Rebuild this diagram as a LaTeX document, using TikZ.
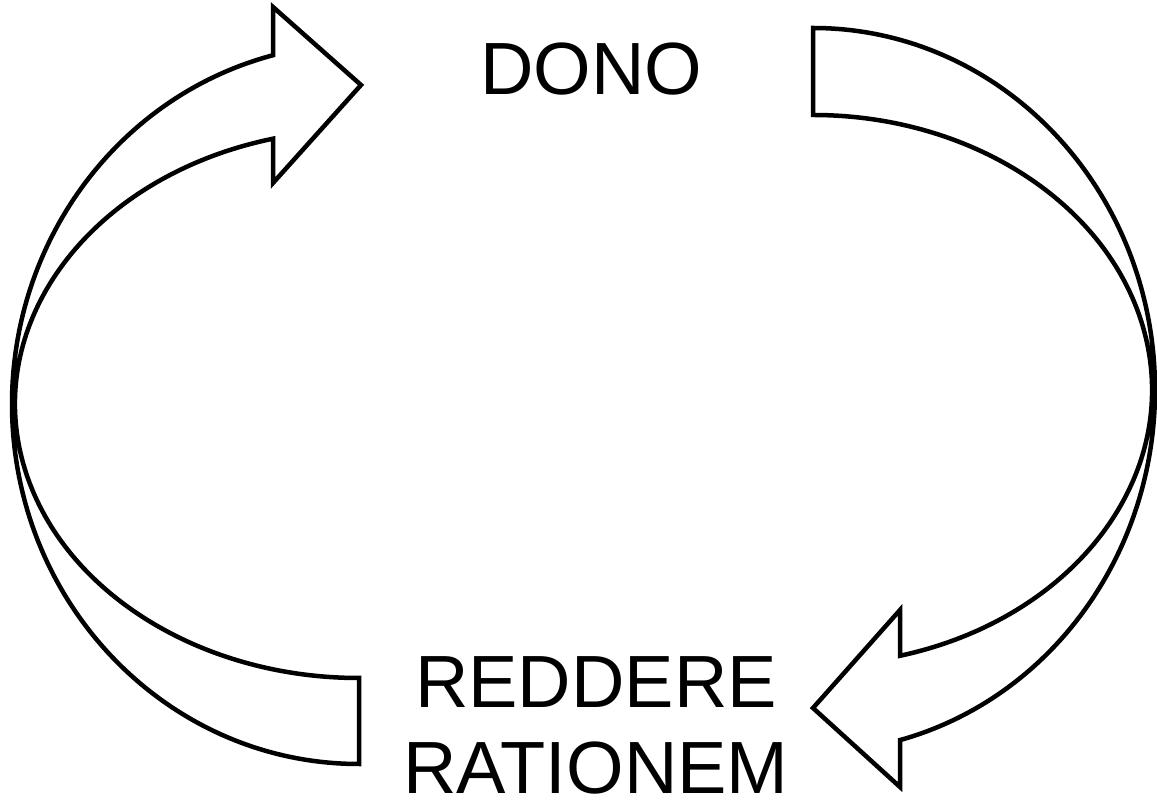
\documentclass[tikz,border=0pt]{standalone}
\usepackage{fontspec}
\setmainfont{Liberation Sans}
\usetikzlibrary{positioning}

\begin{document}
\begin{tikzpicture}[x=1pt, y=1pt,
		ArrowBand/.style={draw=black, line width=4.5pt, fill=white},
		CycleLabel/.style={inner sep=0pt, align=center, font=\fontsize{74}{86}\selectfont}]
			\useasboundingbox (0,0) rectangle (1157,806);
			% left arrow, going up to DONO
			\pgfmathsetmacro{\LeftCenterX}{359}
			\pgfmathsetmacro{\LeftCenterY}{402}
			\pgfmathsetmacro{\LeftOuterA}{347}
			\pgfmathsetmacro{\LeftOuterB}{360}
			\pgfmathsetmacro{\LeftInnerA}{344}
			\pgfmathsetmacro{\LeftInnerB}{274}
			\pgfmathsetmacro{\LeftHeadBackX}{273}
			\pgfmathsetmacro{\LeftOuterEnd}{180-acos((\LeftCenterX-\LeftHeadBackX)/\LeftOuterA)}
			\pgfmathsetmacro{\LeftInnerEnd}{180-acos((\LeftCenterX-\LeftHeadBackX)/\LeftInnerA)}
			\pgfmathsetmacro{\LeftInnerJoinY}{\LeftCenterY+\LeftInnerB*sin(\LeftInnerEnd)}
			\coordinate (LeftHeadTop) at (\LeftHeadBackX,799);
			\coordinate (LeftHeadTip) at (361,721);
			\coordinate (LeftHeadBottom) at (\LeftHeadBackX,623);
			% right arrow, going down to REDDERE RATIONEM
			\pgfmathsetmacro{\RightCenterX}{813}
			\pgfmathsetmacro{\RightCenterY}{416}
			\pgfmathsetmacro{\RightOuterA}{342}
			\pgfmathsetmacro{\RightOuterB}{362}
			\pgfmathsetmacro{\RightInnerA}{339}
			\pgfmathsetmacro{\RightInnerB}{275}
			\pgfmathsetmacro{\RightHeadBackX}{900}
			\pgfmathsetmacro{\RightOuterEnd}{-acos((\RightHeadBackX-\RightCenterX)/\RightOuterA)}
			\pgfmathsetmacro{\RightInnerEnd}{-acos((\RightHeadBackX-\RightCenterX)/\RightInnerA)}
			\pgfmathsetmacro{\RightInnerJoinY}{\RightCenterY+\RightInnerB*sin(\RightInnerEnd)}
			\coordinate (RightHeadBottom) at (\RightHeadBackX,19);
			\coordinate (RightHeadTip) at (813,98);
			\coordinate (RightHeadTop) at (\RightHeadBackX,196);
			\draw [ArrowBand] (\LeftCenterX,\LeftCenterY-\LeftInnerB) -- (\LeftCenterX,\LeftCenterY-\LeftOuterB)
				arc [start angle=270, end angle=\LeftOuterEnd, x radius=\LeftOuterA, y radius=\LeftOuterB]
				-- (LeftHeadTop) -- (LeftHeadTip) -- (LeftHeadBottom) -- (\LeftHeadBackX,\LeftInnerJoinY)
				arc [start angle=\LeftInnerEnd, end angle=270, x radius=\LeftInnerA, y radius=\LeftInnerB] -- cycle;
			\draw [ArrowBand] (\RightCenterX,\RightCenterY+\RightInnerB) -- (\RightCenterX,\RightCenterY+\RightOuterB)
				arc [start angle=90, end angle=\RightOuterEnd, x radius=\RightOuterA, y radius=\RightOuterB]
				-- (RightHeadBottom) -- (RightHeadTip) -- (RightHeadTop) -- (\RightHeadBackX,\RightInnerJoinY)
				arc [start angle=\RightInnerEnd, end angle=90, x radius=\RightInnerA, y radius=\RightInnerB] -- cycle;
			\node [CycleLabel, anchor=base] (DonoLabel) at (591,711) {DONO};
			\node [CycleLabel] (RationemLabel) at (596,81) {REDDERE\\RATIONEM};
		\end{tikzpicture}
\end{document}
